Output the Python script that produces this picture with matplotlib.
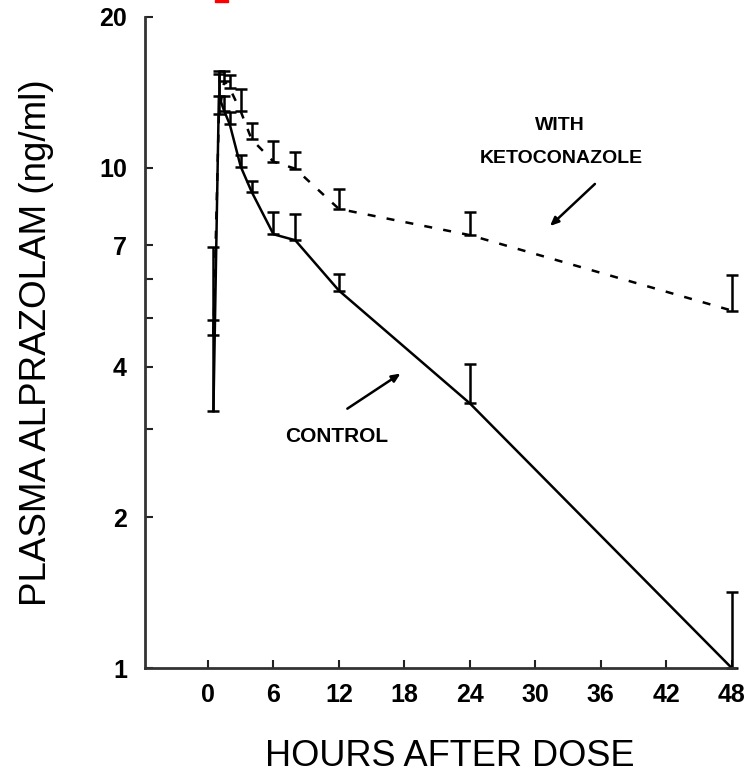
import matplotlib
matplotlib.use("Agg")
import matplotlib.pyplot as plt
from matplotlib.ticker import FixedLocator, NullFormatter
from matplotlib.patches import Rectangle

plt.rcParams["font.family"] = ["Liberation Sans", "DejaVu Sans"]

# sampling times (hours after dose)
hours = [0.5, 1, 1.5, 2, 3, 4, 6, 8, 12, 24, 48]

# control: mean and upper end of the error bar (ng/ml)
control = [3.26, 13.9, 12.96, 12.2, 10.05, 8.95, 7.36, 7.16, 5.68, 3.38, 1.0]
control_top = [4.97, 15.6, 13.9, 12.9, 10.6, 9.4, 8.15, 8.08, 6.12, 4.05, 1.42]

# with ketoconazole
keto = [4.63, 12.79, 14.9, 14.4, 12.96, 11.39, 10.28, 9.95, 8.27, 7.33, 5.18]
keto_top = [6.93, 15.4, 15.6, 15.3, 14.35, 12.27, 11.28, 10.77, 9.08, 8.16, 6.09]

x_ticks = [0, 6, 12, 18, 24, 30, 36, 42, 48]
y_major = [1, 2, 4, 7, 10, 20]
y_minor = [3, 5, 6]

fig = plt.figure(figsize=(7.53, 7.83), dpi=100)
ax = fig.add_axes([145 / 753, 1 - 668 / 783, 590 / 753, 651 / 783])

err_c = [[0] * len(control), [t - v for t, v in zip(control_top, control)]]
err_k = [[0] * len(keto), [t - v for t, v in zip(keto_top, keto)]]

ax.errorbar(hours, control, yerr=err_c, color="black", lw=1.8,
            elinewidth=1.8, capsize=4.5, capthick=1.8, clip_on=False)
ax.errorbar(hours, keto, yerr=err_k, color="black", lw=1.8, ls=(0, (3.2, 4.5)),
            elinewidth=1.8, capsize=4.5, capthick=1.8, clip_on=False)

ax.set_yscale("log")
ax.set_ylim(1, 20)
ax.set_xlim(-5.77, 48.3)

ax.yaxis.set_major_locator(FixedLocator(y_major))
ax.yaxis.set_minor_locator(FixedLocator(y_minor))
ax.yaxis.set_minor_formatter(NullFormatter())
ax.set_yticklabels([str(v) for v in y_major])
ax.set_xticks(x_ticks)
ax.set_xticklabels([str(v) for v in x_ticks])

for s in ["top", "right"]:
    ax.spines[s].set_visible(False)
for s in ["left", "bottom"]:
    ax.spines[s].set_linewidth(2)
    ax.spines[s].set_color("#333333")

ax.tick_params(which="both", direction="in", length=6, width=1.5, color="#222222")
ax.tick_params(axis="y", pad=13)
ax.tick_params(axis="x", pad=11)
for lab in ax.get_xticklabels() + ax.get_yticklabels():
    lab.set_fontsize(18)
    lab.set_fontweight("bold")

fig.text(450 / 753, 1 - 757 / 783, "HOURS AFTER DOSE", fontsize=26,
         ha="center", va="center")
fig.text(37 / 753, 1 - 343 / 783, "PLASMA ALPRAZOLAM (ng/ml)", fontsize=26.5,
         ha="center", va="center", rotation=90)

ax.text(0.703, 0.834, "WITH", transform=ax.transAxes, fontsize=14,
        fontweight="bold", ha="center", va="center")
ax.text(0.705, 0.783, "KETOCONAZOLE", transform=ax.transAxes, fontsize=14,
        fontweight="bold", ha="center", va="center")
ax.text(0.325, 0.355, "CONTROL", transform=ax.transAxes, fontsize=15,
        fontweight="bold", ha="center", va="center")

arrow = dict(arrowstyle="-|>,head_length=0.5,head_width=0.22", color="black", lw=1.8)
ax.annotate("", xy=(0.683, 0.676), xytext=(0.766, 0.7465),
            xycoords="axes fraction", textcoords="axes fraction", arrowprops=arrow)
ax.annotate("", xy=(0.437, 0.4547), xytext=(0.339, 0.396),
            xycoords="axes fraction", textcoords="axes fraction", arrowprops=arrow)

# small red mark cut off at the top edge of the scan
fig.patches.append(Rectangle((215 / 753, 1 - 2 / 783), 13 / 753, 2 / 783,
                             transform=fig.transFigure, color="red"))

fig.savefig("out.png", dpi=100)
